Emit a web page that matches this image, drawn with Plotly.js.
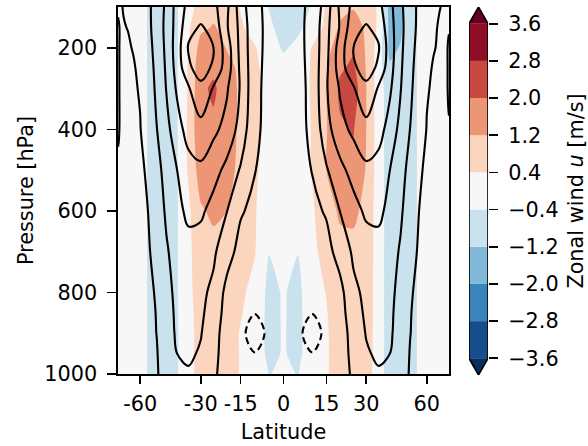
<!DOCTYPE html>
<html>
<head>
<meta charset="utf-8">
<script src="https://cdn.plot.ly/plotly-3.0.1.min.js"></script>
<style>
html,body{margin:0;padding:0;background:#ffffff;}
#plot{width:588px;height:446px;}
</style>
</head>
<body>
<div id="plot"></div>
<script>
// ---------------- data ----------------
const latSouth = [-90,-85,-80,-75,-70,-65,-60,-55,-50,-45,-40,-35,-30,-25,-20,-15,-10,-5,0];
const latNorth = [5,10,15,20,25,30,35,40,45,50,55,60,65,70,75,80,85,90];
const pressure = [100,150,200,250,300,400,500,600,700,800,850,900,950,1000];

// climatological zonal wind (m/s), one row per pressure level
const climSouth = [
  [3,3.5,4.2,5.5,7,9,11,13,19,27,39,48,50,48,37,20,6.8,3.2,2],
  [7,5.8,4,4.5,5.3,8,10.5,13,18.5,28,39,52,56,52,36,22,7.5,3,2],
  [7,6,3.5,3,3.8,5.7,9,12.5,17.5,27.5,40,56,62,55,40,22,8,2.5,1.5],
  [7,6,3.5,3,3.5,4,7.5,11.5,17,26.5,39,53,60,53,40,23,8,2,1],
  [7,6,3.5,3,3.3,4.2,5.5,10.5,16.5,25.5,36.5,44,52,44,36,24,7.5,2,1],
  [6.5,6,3.5,3,3.2,3.8,4.7,9,14.8,22,31,39,42,37,32,21,7,2,1],
  [3,3,2.5,2.5,2.8,3.2,4,5.8,11.5,19,25,31,33,29,22,14,5.3,2,1],
  [2,2,2,2,2.3,2.8,3.5,5,9.5,16.5,22,27.5,27,21,15.2,6,2.5,1,0.5],
  [1.5,1.5,1.5,1.5,1.8,2.3,3,4,8,14,19,21,19.5,16.5,9,1.5,-0.5,-1,-1],
  [1,1,1,1,1.3,1.8,2.5,3.2,5.8,12,17.5,19.5,17,13,2,-1.5,-3,-2,-1.5],
  [1,1,1,1,1.2,1.6,2.3,3,5.3,11,17,19,16.5,11,1,-3,-4.9,-3,-2],
  [1,1,1,1,1.2,1.5,2.2,3,5.1,10.5,16.5,18,15.5,9,0,-4.2,-6.5,-4.3,-2.5],
  [1,1,1,1,1.1,1.4,2.1,3,4.6,9,15,16.5,14,8,0,-3.5,-4.9,-3.5,-2.5],
  [1,1,1,1,1,1.3,2,2.8,4.3,8.5,13,14,12,7,-0.5,-3,-4,-3,-2]
];
const climNorth = [
  [3.2,6.8,20,37,48,50,48,38,27,19,13,9,7,5.3,4.5,4,3.5,3],
  [3,7.5,22,36,52,56,52,39,28,18.5,13,10,6,4.5,4,4,4,4],
  [2.5,8,22,40,55,62,56,40,27.5,17.5,12.5,9,5.7,3.8,3,3.5,6,7],
  [2,8,23,40,53,60,53,39,26.5,17,11.5,7.5,4,3.5,3,3.5,6,7],
  [2,7.5,24,36,44,52,44,36.5,25.5,16.5,10.5,5.5,4.2,3.3,3,3.5,6,7],
  [2,7,21,32,37,42,39,31,22,14.8,9,4.7,3.8,3.2,3,3.5,4,4],
  [2,5.3,14,22,29,33,31,25,19,11.5,5.8,4,3.2,2.8,2.5,2.5,3,3],
  [1,2.5,6,15.2,21,27,27.5,22,16.5,9.5,5,3.5,2.8,2.3,2,2,2,2],
  [-1,-0.5,1.5,9,16.5,19.5,21,19,14,8,4,3,2.3,1.8,1.5,1.5,1.5,1.5],
  [-2,-3,-1.5,2,13,17,19.5,17.5,12,5.8,3.2,2.5,1.8,1.3,1,1,1,1],
  [-3,-4.9,-3,1,11,16.5,19,17,11,5.3,3,2.3,1.6,1.2,1,1,1,1],
  [-4.3,-6.5,-4.2,0,9,15.5,18,16.5,10.5,5.1,3,2.2,1.5,1.2,1,1,1,1],
  [-3.5,-4.9,-3.5,0,8,14,16.5,15,9,4.6,3,2.1,1.4,1.1,1,1,1,1],
  [-3,-4,-3,-0.5,7,12,14,13,8.5,4.3,2.8,2,1.3,1,1,1,1,1]
];

// zonal wind response (m/s), one row per pressure level
const anomSouth = [
  [0,0,0,0,0,0,0,-0.45,-0.8,-0.8,-0.45,0.1,0.7,1.0,0.8,0.35,0.1,-0.42,-0.8],
  [0,0,0,0,0,0,0,-0.45,-0.8,-0.8,-0.45,0.3,1.05,1.25,1.0,0.5,0.1,-0.3,-0.6],
  [0,0,0,0,0,0,0,-0.45,-0.8,-0.8,-0.45,0.4,1.5,1.7,1.15,0.8,0.45,0.0,-0.5],
  [0,0,0,0,0,0,0,-0.45,-0.8,-0.8,-0.45,0.5,1.75,1.85,1.5,1.0,0.55,0.1,-0.1],
  [0,0,0,0,0,0,0,-0.45,-0.8,-0.8,-0.45,0.5,1.85,2.12,1.6,1.05,0.6,0.2,0.0],
  [0,0,0,0,0,0,0,-0.45,-0.8,-0.8,-0.45,0.55,1.9,1.85,1.55,1.05,0.6,0.2,0.0],
  [0,0,0,0,0,0,0,-0.45,-0.8,-0.8,-0.45,0.5,1.6,1.8,1.55,0.95,0.5,0.1,0.0],
  [0,0,0,0,0,0,0,-0.45,-0.8,-0.8,-0.45,0.25,1.1,1.35,1.2,0.9,0.45,0.0,0.0],
  [0,0,0,0,0,0,0,-0.45,-0.8,-0.8,-0.45,0.2,0.95,0.95,0.9,0.75,0.45,-0.38,-0.3],
  [0,0,0,0,0,0,0,-0.45,-0.8,-0.8,-0.45,0.15,0.9,0.9,0.85,0.55,0.15,-0.6,-0.34],
  [0,0,0,0,0,0,0,-0.45,-0.8,-0.8,-0.45,0.1,0.85,0.9,0.8,0.45,0.1,-0.62,-0.34],
  [0,0,0,0,0,0,0,-0.45,-0.8,-0.8,-0.45,0.05,0.8,0.85,0.75,0.35,0.1,-0.65,-0.34],
  [0,0,0,0,0,0,0,-0.45,-0.8,-0.8,-0.45,0.05,0.8,0.85,0.75,0.35,0.1,-0.6,-0.34],
  [0,0,0,0,0,0,0,-0.45,-0.8,-0.8,-0.45,0.05,0.8,0.85,0.75,0.35,0.1,-0.42,-0.3]
];
const anomNorth = [
  [-0.7,-0.343,0.5,1.0,1.15,0.9,0.3,-1.5,-1.4,-0.6,-0.27,0,0,0,0,0,0,0],
  [-0.55,-0.1,0.6,1.3,1.5,1.1,0.25,-1.45,-1.35,-0.65,-0.27,0,0,0,0,0,0,0],
  [-0.2,0.45,1.0,1.5,1.9,1.1,0.05,-1.4,-1.15,-0.7,-0.27,0,0,0,0,0,0,0],
  [-0.1,0.5,1.15,1.9,2.15,1.15,0.0,-1.1,-0.85,-0.75,-0.27,0,0,0,0,0,0,0],
  [-0.05,0.5,1.2,2.15,2.45,1.2,0.0,-0.85,-0.8,-0.8,-0.27,0,0,0,0,0,0,0],
  [-0.05,0.45,1.15,1.9,2.05,1.2,0.0,-0.8,-0.8,-0.8,-0.27,0,0,0,0,0,0,0],
  [-0.05,0.45,1.2,1.7,1.8,1.15,0.0,-0.8,-0.8,-0.8,-0.27,0,0,0,0,0,0,0],
  [-0.1,0.3,0.9,1.3,1.35,1.0,0.0,-0.8,-0.8,-0.8,-0.27,0,0,0,0,0,0,0],
  [-0.38,0.2,0.7,1.0,1.0,0.95,0.0,-0.8,-0.8,-0.8,-0.27,0,0,0,0,0,0,0],
  [-0.6,0.1,0.42,0.95,0.95,0.9,0.0,-0.8,-0.8,-0.8,-0.27,0,0,0,0,0,0,0],
  [-0.62,0.1,0.35,0.9,0.95,0.9,0.0,-0.8,-0.8,-0.8,-0.27,0,0,0,0,0,0,0],
  [-0.65,0.1,0.3,0.85,0.9,0.85,0.0,-0.8,-0.8,-0.8,-0.27,0,0,0,0,0,0,0],
  [-0.6,0.1,0.3,0.85,0.9,0.85,0.0,-0.8,-0.8,-0.8,-0.27,0,0,0,0,0,0,0],
  [-0.42,0.05,0.3,0.85,0.9,0.8,-0.05,-0.8,-0.8,-0.8,-0.27,0,0,0,0,0,0,0]
];

// colour levels of the response
const levels = [-3.6,-2.8,-2.0,-1.2,-0.4,0.4,1.2,2.0,2.8,3.6];
const levelText = ['\u22123.6','\u22122.8','\u22122.0','\u22121.2','\u22120.4','0.4','1.2','2.0','2.8','3.6'];
const underColor = '#053061';
const bandColors = ['rgb(21,78,139)','rgb(56,132,187)','rgb(129,186,216)','rgb(202,225,238)','#f7f7f7',
                    'rgb(252,213,191)','rgb(237,150,118)','rgb(202,72,66)','rgb(145,13,38)'];
const overColor = '#67001f';

// climatology contour levels
const climPosStart = 5, climPosEnd = 55, climStep = 10, climNeg = -5;

// axis ticks
const latTicks = [-60,-30,-15,0,15,30,60];
const latTickText = ['-60','-30','-15','0','15','30','60'];
const pTicks = [200,400,600,800,1000];
const pTickText = ['200','400','600','800','1000'];

// ---------------- build ----------------
(function () {
const latitudes = latSouth.concat(latNorth);
const sinLat = latitudes.map(l => Math.sin(l * Math.PI / 180));
const clim = climSouth.map((r, i) => r.concat(climNorth[i]));
const anom = anomSouth.map((r, i) => r.concat(anomNorth[i]));

const allColors = [underColor].concat(bandColors, [overColor]);
const colorscale = allColors.map((c, i) => [i / (allColors.length - 1), c]);
const step = levels[1] - levels[0];

const FONT = 'DejaVu Sans';
const FS = 20.8;
const K = 'black';

const traces = [];
traces.push({
  type: 'contour', x: sinLat, y: pressure, z: anom,
  autocontour: false,
  contours: {coloring: 'fill', start: levels[0], end: levels[levels.length - 1], size: step, showlines: false},
  colorscale: colorscale, showscale: false,
  line: {width: 0, smoothing: 0.6},
  hoverinfo: 'skip'
});
traces.push({
  type: 'contour', x: sinLat, y: pressure, z: clim,
  autocontour: false,
  contours: {coloring: 'none', start: climPosStart, end: climPosEnd, size: climStep},
  line: {color: K, width: 2.1, smoothing: 1},
  showscale: false, hoverinfo: 'skip'
});
traces.push({
  type: 'contour', x: sinLat, y: pressure, z: clim,
  autocontour: false,
  contours: {coloring: 'none', start: climNeg, end: climNeg, size: climStep},
  line: {color: K, width: 2.1, smoothing: 1, dash: '7px,4px'},
  showscale: false, hoverinfo: 'skip'
});

// colour bar built from the levels
const lower = levels.slice(0, -1);
const heights = lower.map((l, i) => levels[i + 1] - l);
traces.push({
  type: 'bar', x: lower.map(() => 0), y: heights, base: lower, width: 1,
  marker: {color: bandColors, line: {width: 0}},
  xaxis: 'x2', yaxis: 'y2', hoverinfo: 'skip', showlegend: false
});
const extend = 0.05 * (levels[levels.length - 1] - levels[0]);
const cbTop = levels[levels.length - 1], cbBot = levels[0];
traces.push({
  type: 'scatter', mode: 'lines', x: [-0.5, 0.5, 0, -0.5], y: [cbTop, cbTop, cbTop + extend, cbTop],
  fill: 'toself', fillcolor: overColor, line: {width: 0}, xaxis: 'x2', yaxis: 'y2', hoverinfo: 'skip', showlegend: false
});
traces.push({
  type: 'scatter', mode: 'lines', x: [-0.5, 0.5, 0, -0.5], y: [cbBot, cbBot, cbBot - extend, cbBot],
  fill: 'toself', fillcolor: underColor, line: {width: 0}, xaxis: 'x2', yaxis: 'y2', hoverinfo: 'skip', showlegend: false
});
traces.push({
  type: 'scatter', mode: 'lines',
  x: [-0.5, 0, 0.5, 0.5, 0, -0.5, -0.5],
  y: [cbBot, cbBot - extend, cbBot, cbTop, cbTop + extend, cbTop, cbBot],
  line: {color: K, width: 1.6}, xaxis: 'x2', yaxis: 'y2', hoverinfo: 'skip', showlegend: false
});

const W = 588, H = 446;
const mL = 118, mR = 100, mT = 7, mB = 71;
const pw = W - mL - mR, ph = H - mT - mB;

const layout = {
  width: W, height: H,
  margin: {l: mL, r: mR, t: mT, b: mB, pad: 0},
  paper_bgcolor: 'white', plot_bgcolor: 'white',
  font: {family: FONT, size: FS, color: K},
  showlegend: false,
  barmode: 'overlay',
  xaxis: {
    domain: [0, (449 - mL) / pw], range: [-1, 1],
    tickmode: 'array', tickvals: latTicks.map(l => Math.sin(l * Math.PI / 180)), ticktext: latTickText,
    ticks: 'outside', ticklen: 8, tickwidth: 1.6, tickcolor: K, ticklabelstandoff: 2,
    showline: true, mirror: true, linecolor: K, linewidth: 1.6,
    showgrid: false, zeroline: false,
    title: {text: 'Latitude', font: {size: FS, color: K}, standoff: 10}
  },
  yaxis: {
    domain: [(375 - 374) / ph, 1], range: [1000, 100],
    tickmode: 'array', tickvals: pTicks, ticktext: pTickText,
    ticks: 'outside', ticklen: 9, tickwidth: 1.6, tickcolor: K, ticklabelstandoff: 6,
    showline: true, mirror: true, linecolor: K, linewidth: 1.6,
    showgrid: false, zeroline: false,
    title: {text: 'Pressure [hPa]', font: {size: FS, color: K}, standoff: 5}
  },
  xaxis2: {
    domain: [(469 - mL) / pw, (488 - mL) / pw], range: [-0.5, 0.5], anchor: 'y2',
    showticklabels: false, ticks: '', showgrid: false, zeroline: false, showline: false, fixedrange: true
  },
  yaxis2: {
    domain: [0, 1], range: [cbBot - extend, cbTop + extend], anchor: 'x2', side: 'right',
    tickmode: 'array', tickvals: levels, ticktext: levelText,
    ticks: 'outside', ticklen: 9, tickwidth: 1.6, tickcolor: K, ticklabelstandoff: 6,
    showgrid: false, zeroline: false, showline: false,
    title: {text: 'Zonal wind <i>u</i> [m/s]', font: {size: FS, color: K}, standoff: 10}
  }
};

Plotly.newPlot('plot', traces, layout, {displayModeBar: false, staticPlot: true});
})();
</script>
</body>
</html>
